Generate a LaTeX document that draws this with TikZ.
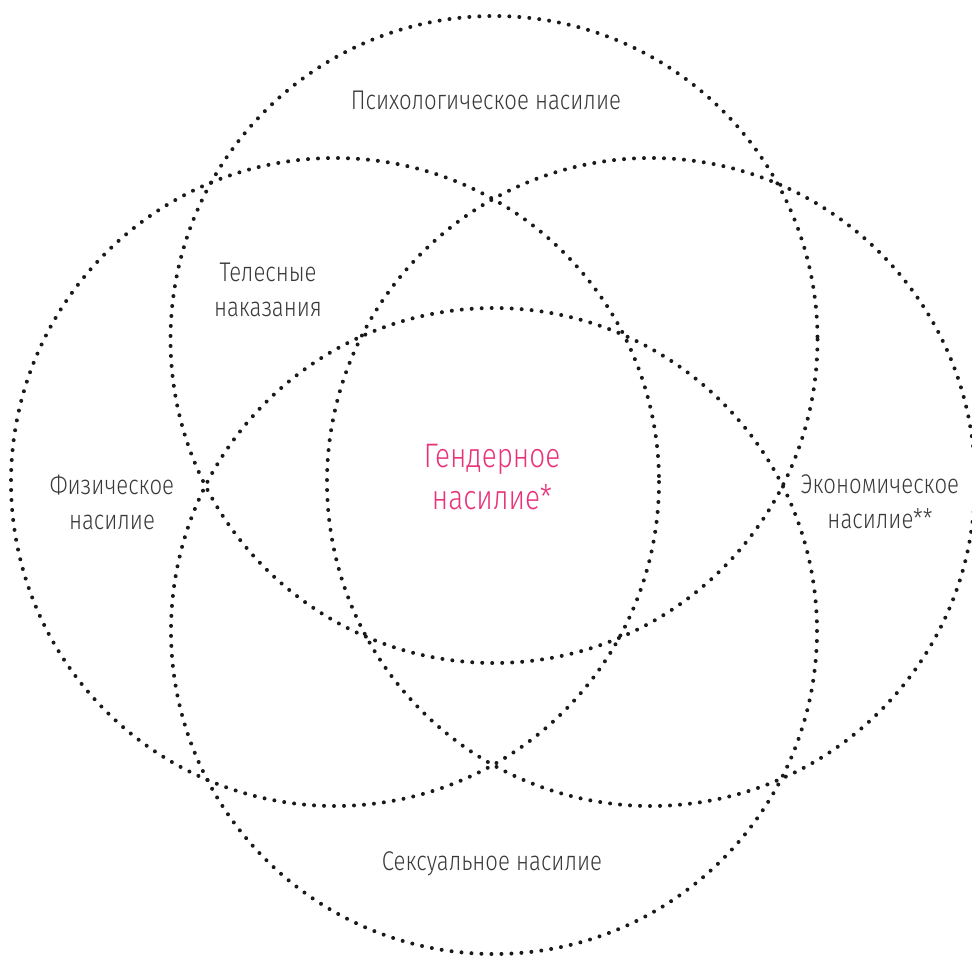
\documentclass[tikz,border=0pt]{standalone}
\usepackage{fontspec}
\setmainfont{Fira Sans}[UprightFont=* Light, FakeStretch=0.82]
\definecolor{dotc}{HTML}{1A1A1A}
\definecolor{txtc}{HTML}{3A3A3A}
\definecolor{pinkc}{HTML}{E8337B}
\begin{document}
\begin{tikzpicture}[x=1pt,y=-1pt,
  dotring/.style={draw=dotc, line width=4pt, line cap=round, dash pattern=on 0pt off 10pt},
  lbl/.style={text=txtc, align=center, inner sep=0pt, font=\fontsize{27}{35}\selectfont},
  glbl/.style={text=pinkc, align=center, inner sep=0pt, font=\fontsize{34}{42}\selectfont}]
\useasboundingbox (0,0) rectangle (972,956);
\clip (0,0) rectangle (972,956);
\coordinate (cA) at (494,339.5);
\coordinate (cB) at (494,631);
\coordinate (cC) at (335,482);
\coordinate (cD) at (651,482);
\draw[dotring] (cA) circle[radius=323.5];
\draw[dotring] (cB) circle[radius=323];
\draw[dotring] (cC) circle[radius=324];
\draw[dotring] (cD) circle[radius=324];
\node[lbl] (psy) at (486,100) {Психологическое насилие};
\node[lbl] (tel) at (268,290) {Телесные\\наказания};
\node[lbl] (fiz) at (112,502) {Физическое\\насилие};
\node[glbl] (gen) at (492,477) {Гендерное\\насилие*};
\node[lbl] (eko) at (880,502) {Экономическое\\насилие**};
\node[lbl] (sex) at (492,864) {Сексуальное насилие};
\end{tikzpicture}
\end{document}
